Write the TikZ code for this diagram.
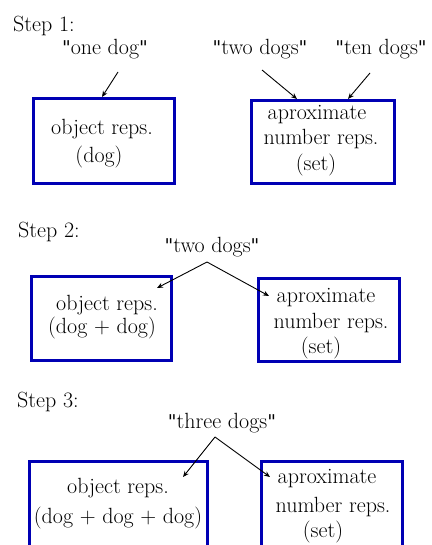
\documentclass[tikz,border=0pt]{standalone}
\usepackage{fontspec}
\newfontfamily\quotefont{DejaVu Serif}
\usetikzlibrary{arrows.meta}
\definecolor{boxblue}{RGB}{0,0,180}
\tikzset{
  txt/.style={inner sep=0pt, anchor=base, font=\rmfamily\fontsize{22}{26}\selectfont},
  steplabel/.style={txt, anchor=base west},
  repbox/.style={draw=boxblue, line width=3pt, inner sep=0pt, outer sep=0pt, rectangle},
  arr/.style={line width=0.9pt, -{Stealth[length=6pt,width=5pt]}}
}
\newcommand{\qq}{{\quotefont\fontsize{19}{26}\selectfont\symbol{34}}}
\begin{document}
\begin{tikzpicture}[x=1pt,y=-1pt]
\useasboundingbox (0,0) rectangle (431,545);
\clip (0,0) rectangle (431,545);
% ---------- Step 1 ----------
\node[steplabel] (s1) at (13,32) {Step 1:};
\node[txt] (l1) at (105,55) {\qq one dog\qq};
\node[txt] (l2) at (260,55) {\qq two dogs\qq};
\node[txt] (l3) at (381,55) {\qq ten dogs\qq};
\node[repbox, minimum width=141pt, minimum height=85pt] (b1) at (104,141) {};
\node[repbox, minimum width=143pt, minimum height=83pt] (b2) at (323,142) {};
\node[txt] (b1a) at (102,135) {object reps.};
\node[txt] (b1b) at (99,163) {(dog)};
\node[txt] (b2a) at (317,120) {aproximate};
\node[txt] (b2b) at (321,145) {number reps.};
\node[txt] (b2c) at (316,171) {(set)};
\coordinate (l1s) at (118,72);
\coordinate (l2s) at (262,70);
\coordinate (l3s) at (370,73);
\coordinate (b1t) at (102,97);
\coordinate (b2t1) at (297,99);
\coordinate (b2t2) at (348,99);
\draw[arr] (l1s) -- (b1t);
\draw[arr] (l2s) -- (b2t1);
\draw[arr] (l3s) -- (b2t2);
% ---------- Step 2 ----------
\node[steplabel] (s2) at (18,237) {Step 2:};
\node[txt] (l4) at (212,252) {\qq two dogs\qq};
\node[repbox, minimum width=140pt, minimum height=84pt] (b3) at (101.5,318.5) {};
\node[repbox, minimum width=141pt, minimum height=83pt] (b4) at (329,320) {};
\node[txt] (b3a) at (107,310) {object reps.};
\node[txt] (b3b) at (102,333) {(dog + dog)};
\node[txt] (b4a) at (326,302) {aproximate};
\node[txt] (b4b) at (331,328) {number reps.};
\node[txt] (b4c) at (321,353) {(set)};
\coordinate (a2) at (207,262);
\coordinate (e3) at (157,288);
\coordinate (e4) at (269,296);
\draw[arr] (a2) -- (e3);
\draw[arr] (a2) -- (e4);
% ---------- Step 3 ----------
\node[steplabel] (s3) at (17,407) {Step 3:};
\node[txt] (l5) at (222,428) {\qq three dogs\qq};
\node[repbox, minimum width=178pt, minimum height=114pt] (b5) at (118.5,518) {};
\node[repbox, minimum width=141pt, minimum height=114pt] (b6) at (332,518) {};
\node[txt] (b5a) at (118,493) {object reps.};
\node[txt] (b5b) at (118,523) {(dog + dog + dog)};
\node[txt] (b6a) at (327,483) {aproximate};
\node[txt] (b6b) at (333,512) {number reps.};
\node[txt] (b6c) at (323,537) {(set)};
\coordinate (a3) at (215,437);
\coordinate (e5) at (183,477);
\coordinate (e6) at (270,477);
\draw[arr] (a3) -- (e5);
\draw[arr] (a3) -- (e6);
\end{tikzpicture}
\end{document}
